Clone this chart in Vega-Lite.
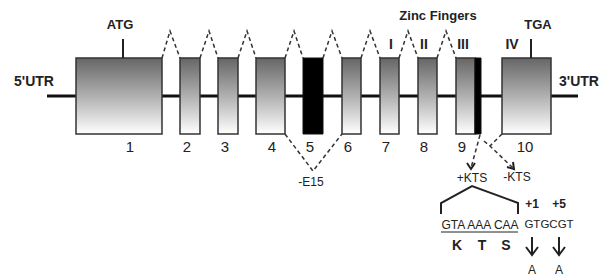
{
  "$schema": "https://vega.github.io/schema/vega-lite/v6.json",
  "width": 600,
  "height": 278,
  "autosize": "none",
  "padding": 0,
  "background": "white",
  "config": {"view": {"stroke": null}, "font": "Liberation Sans"},
  "datasets": {
    "exons": [
      {"exon": "1", "x": 76, "x2": 162, "y": 58, "y2": 134, "kind": "grad"},
      {"exon": "2", "x": 180, "x2": 200, "y": 58, "y2": 134, "kind": "grad"},
      {"exon": "3", "x": 218, "x2": 238, "y": 58, "y2": 134, "kind": "grad"},
      {"exon": "4", "x": 256, "x2": 285, "y": 58, "y2": 134, "kind": "grad"},
      {"exon": "5", "x": 303, "x2": 323, "y": 58, "y2": 134, "kind": "black"},
      {"exon": "6", "x": 342, "x2": 361, "y": 58, "y2": 134, "kind": "grad"},
      {"exon": "7", "x": 380, "x2": 399, "y": 58, "y2": 134, "kind": "grad"},
      {"exon": "8", "x": 418, "x2": 437, "y": 58, "y2": 134, "kind": "grad"},
      {"exon": "9", "x": 456, "x2": 475, "y": 58, "y2": 134, "kind": "grad"},
      {"exon": "9b", "x": 475, "x2": 481, "y": 58, "y2": 134, "kind": "black"},
      {"exon": "10", "x": 502, "x2": 551, "y": 58, "y2": 134, "kind": "grad"}
    ],
    "backbone": [{"x": 47, "x2": 578, "y": 96}],
    "solid": [
      {"id": "atg", "o": 1, "x": 123, "y": 39}, {"id": "atg", "o": 2, "x": 123, "y": 58},
      {"id": "tga", "o": 1, "x": 531, "y": 39}, {"id": "tga", "o": 2, "x": 531, "y": 58},
      {"id": "br", "o": 1, "x": 441, "y": 214}, {"id": "br", "o": 2, "x": 441, "y": 203},
      {"id": "br", "o": 3, "x": 472, "y": 186}, {"id": "br", "o": 4, "x": 518, "y": 203},
      {"id": "br", "o": 5, "x": 518, "y": 214},
      {"id": "s1", "o": 1, "x": 532, "y": 237}, {"id": "s1", "o": 2, "x": 532, "y": 255},
      {"id": "h1", "o": 1, "x": 526, "y": 247}, {"id": "h1", "o": 2, "x": 532, "y": 255}, {"id": "h1", "o": 3, "x": 538, "y": 247},
      {"id": "s2", "o": 1, "x": 559, "y": 237}, {"id": "s2", "o": 2, "x": 559, "y": 255},
      {"id": "h2", "o": 1, "x": 553, "y": 247}, {"id": "h2", "o": 2, "x": 559, "y": 255}, {"id": "h2", "o": 3, "x": 565, "y": 247},
      {"id": "k1", "o": 1, "x": 467, "y": 163}, {"id": "k1", "o": 2, "x": 471, "y": 169}, {"id": "k1", "o": 3, "x": 475, "y": 163},
      {"id": "k2", "o": 1, "x": 507, "y": 167}, {"id": "k2", "o": 2, "x": 514, "y": 169}, {"id": "k2", "o": 3, "x": 513, "y": 162}
    ],
    "underline": [
      {"id": "u", "o": 1, "x": 441, "y": 232}, {"id": "u", "o": 2, "x": 518, "y": 232}
    ],
    "dashed": [
      {"id": "c1", "o": 1, "x": 162, "y": 58}, {"id": "c1", "o": 2, "x": 170, "y": 31}, {"id": "c1", "o": 3, "x": 180, "y": 58},
      {"id": "c2", "o": 1, "x": 200, "y": 58}, {"id": "c2", "o": 2, "x": 209, "y": 31}, {"id": "c2", "o": 3, "x": 218, "y": 58},
      {"id": "c3", "o": 1, "x": 238, "y": 58}, {"id": "c3", "o": 2, "x": 247, "y": 31}, {"id": "c3", "o": 3, "x": 256, "y": 58},
      {"id": "c4", "o": 1, "x": 285, "y": 58}, {"id": "c4", "o": 2, "x": 294, "y": 31}, {"id": "c4", "o": 3, "x": 303, "y": 58},
      {"id": "c5", "o": 1, "x": 323, "y": 58}, {"id": "c5", "o": 2, "x": 332, "y": 31}, {"id": "c5", "o": 3, "x": 342, "y": 58},
      {"id": "c6", "o": 1, "x": 361, "y": 58}, {"id": "c6", "o": 2, "x": 370, "y": 31}, {"id": "c6", "o": 3, "x": 380, "y": 58},
      {"id": "c7", "o": 1, "x": 399, "y": 58}, {"id": "c7", "o": 2, "x": 408, "y": 31}, {"id": "c7", "o": 3, "x": 418, "y": 58},
      {"id": "c8", "o": 1, "x": 437, "y": 58}, {"id": "c8", "o": 2, "x": 446, "y": 31}, {"id": "c8", "o": 3, "x": 456, "y": 58},
      {"id": "e15", "o": 1, "x": 285, "y": 134}, {"id": "e15", "o": 2, "x": 313, "y": 171}, {"id": "e15", "o": 3, "x": 342, "y": 134},
      {"id": "p", "o": 1, "x": 480, "y": 135}, {"id": "p", "o": 2, "x": 471, "y": 168},
      {"id": "m1", "o": 1, "x": 502, "y": 134}, {"id": "m1", "o": 2, "x": 490, "y": 146},
      {"id": "m2", "o": 1, "x": 484, "y": 141}, {"id": "m2", "o": 2, "x": 490, "y": 146}, {"id": "m2", "o": 3, "x": 513, "y": 168}
    ],
    "tUTR": [
      {"t": "5'UTR", "x": 34, "y": 82},
      {"t": "3'UTR", "x": 579, "y": 82}
    ],
    "tNum": [
      {"t": "1", "x": 130, "y": 147}, {"t": "2", "x": 187, "y": 147}, {"t": "3", "x": 225, "y": 147},
      {"t": "4", "x": 272, "y": 147}, {"t": "5", "x": 310, "y": 147}, {"t": "6", "x": 348, "y": 147},
      {"t": "7", "x": 386, "y": 147}, {"t": "8", "x": 424, "y": 147}, {"t": "9", "x": 462, "y": 147},
      {"t": "10", "x": 525, "y": 147}
    ],
    "tBold13": [
      {"t": "ATG", "x": 120, "y": 25},
      {"t": "TGA", "x": 538, "y": 25},
      {"t": "Zinc Fingers", "x": 438, "y": 16}
    ],
    "tRoman": [
      {"t": "I", "x": 391, "y": 45}, {"t": "II", "x": 424, "y": 45},
      {"t": "III", "x": 463, "y": 45}, {"t": "IV", "x": 512, "y": 45}
    ],
    "tReg12": [
      {"t": "+KTS", "x": 472, "y": 178},
      {"t": "-KTS", "x": 517, "y": 177},
      {"t": "-E15", "x": 311, "y": 182},
      {"t": "GTA AAA CAA", "x": 480, "y": 225},
      {"t": "A", "x": 532, "y": 270},
      {"t": "A", "x": 559, "y": 270}
    ],
    "tReg11": [
      {"t": "GTGCGT", "x": 549, "y": 225}
    ],
    "tBold12": [
      {"t": "+1", "x": 532, "y": 204},
      {"t": "+5", "x": 559, "y": 204}
    ],
    "tKTS": [
      {"t": "K", "x": 457, "y": 246},
      {"t": "T", "x": 482, "y": 246},
      {"t": "S", "x": 506, "y": 246}
    ]
  },
  "encoding": {
    "x": {"field": "x", "type": "quantitative", "scale": {"domain": [0, 600], "nice": false, "zero": false}, "axis": null},
    "y": {"field": "y", "type": "quantitative", "scale": {"domain": [0, 278], "nice": false, "zero": false, "reverse": true}, "axis": null}
  },
  "layer": [
    {
      "data": {"name": "backbone"},
      "mark": {"type": "rule", "color": "#111", "strokeWidth": 3},
      "encoding": {"x2": {"field": "x2"}}
    },
    {
      "data": {"name": "dashed"},
      "mark": {"type": "line", "color": "#333", "strokeWidth": 1.5, "strokeDash": [4, 3]},
      "encoding": {"detail": {"field": "id"}, "order": {"field": "o"}}
    },
    {
      "data": {"name": "exons"},
      "transform": [{"filter": "datum.kind === 'grad'"}],
      "mark": {
        "type": "rect",
        "stroke": "#333",
        "strokeWidth": 1.5,
        "fill": {"gradient": "linear", "x1": 0, "y1": 0, "x2": 0, "y2": 1,
          "stops": [{"offset": 0, "color": "#666666"}, {"offset": 0.5, "color": "#b0b0b0"}, {"offset": 1, "color": "#ffffff"}]}
      },
      "encoding": {"x2": {"field": "x2"}, "y2": {"field": "y2"}}
    },
    {
      "data": {"name": "exons"},
      "transform": [{"filter": "datum.kind === 'black'"}],
      "mark": {"type": "rect", "fill": "#000", "stroke": "#111", "strokeWidth": 1},
      "encoding": {"x2": {"field": "x2"}, "y2": {"field": "y2"}}
    },
    {
      "data": {"name": "solid"},
      "mark": {"type": "line", "color": "#222", "strokeWidth": 2},
      "encoding": {"detail": {"field": "id"}, "order": {"field": "o"}}
    },
    {
      "data": {"name": "underline"},
      "mark": {"type": "line", "color": "#222", "strokeWidth": 1},
      "encoding": {"detail": {"field": "id"}, "order": {"field": "o"}}
    },
    {
      "data": {"name": "tUTR"},
      "mark": {"type": "text", "fontSize": 14, "fontWeight": "bold", "color": "#222", "align": "center", "baseline": "middle"},
      "encoding": {"text": {"field": "t"}}
    },
    {
      "data": {"name": "tNum"},
      "mark": {"type": "text", "fontSize": 15, "color": "#222", "align": "center", "baseline": "middle"},
      "encoding": {"text": {"field": "t"}}
    },
    {
      "data": {"name": "tBold13"},
      "mark": {"type": "text", "fontSize": 13, "fontWeight": "bold", "color": "#222", "align": "center", "baseline": "middle"},
      "encoding": {"text": {"field": "t"}}
    },
    {
      "data": {"name": "tRoman"},
      "mark": {"type": "text", "fontSize": 14, "fontWeight": "bold", "color": "#222", "align": "center", "baseline": "middle"},
      "encoding": {"text": {"field": "t"}}
    },
    {
      "data": {"name": "tReg12"},
      "mark": {"type": "text", "fontSize": 12, "color": "#222", "align": "center", "baseline": "middle"},
      "encoding": {"text": {"field": "t"}}
    },
    {
      "data": {"name": "tReg11"},
      "mark": {"type": "text", "fontSize": 11.5, "color": "#222", "align": "center", "baseline": "middle"},
      "encoding": {"text": {"field": "t"}}
    },
    {
      "data": {"name": "tBold12"},
      "mark": {"type": "text", "fontSize": 12, "fontWeight": "bold", "color": "#222", "align": "center", "baseline": "middle"},
      "encoding": {"text": {"field": "t"}}
    },
    {
      "data": {"name": "tKTS"},
      "mark": {"type": "text", "fontSize": 14, "fontWeight": "bold", "color": "#222", "align": "center", "baseline": "middle"},
      "encoding": {"text": {"field": "t"}}
    }
  ]
}
